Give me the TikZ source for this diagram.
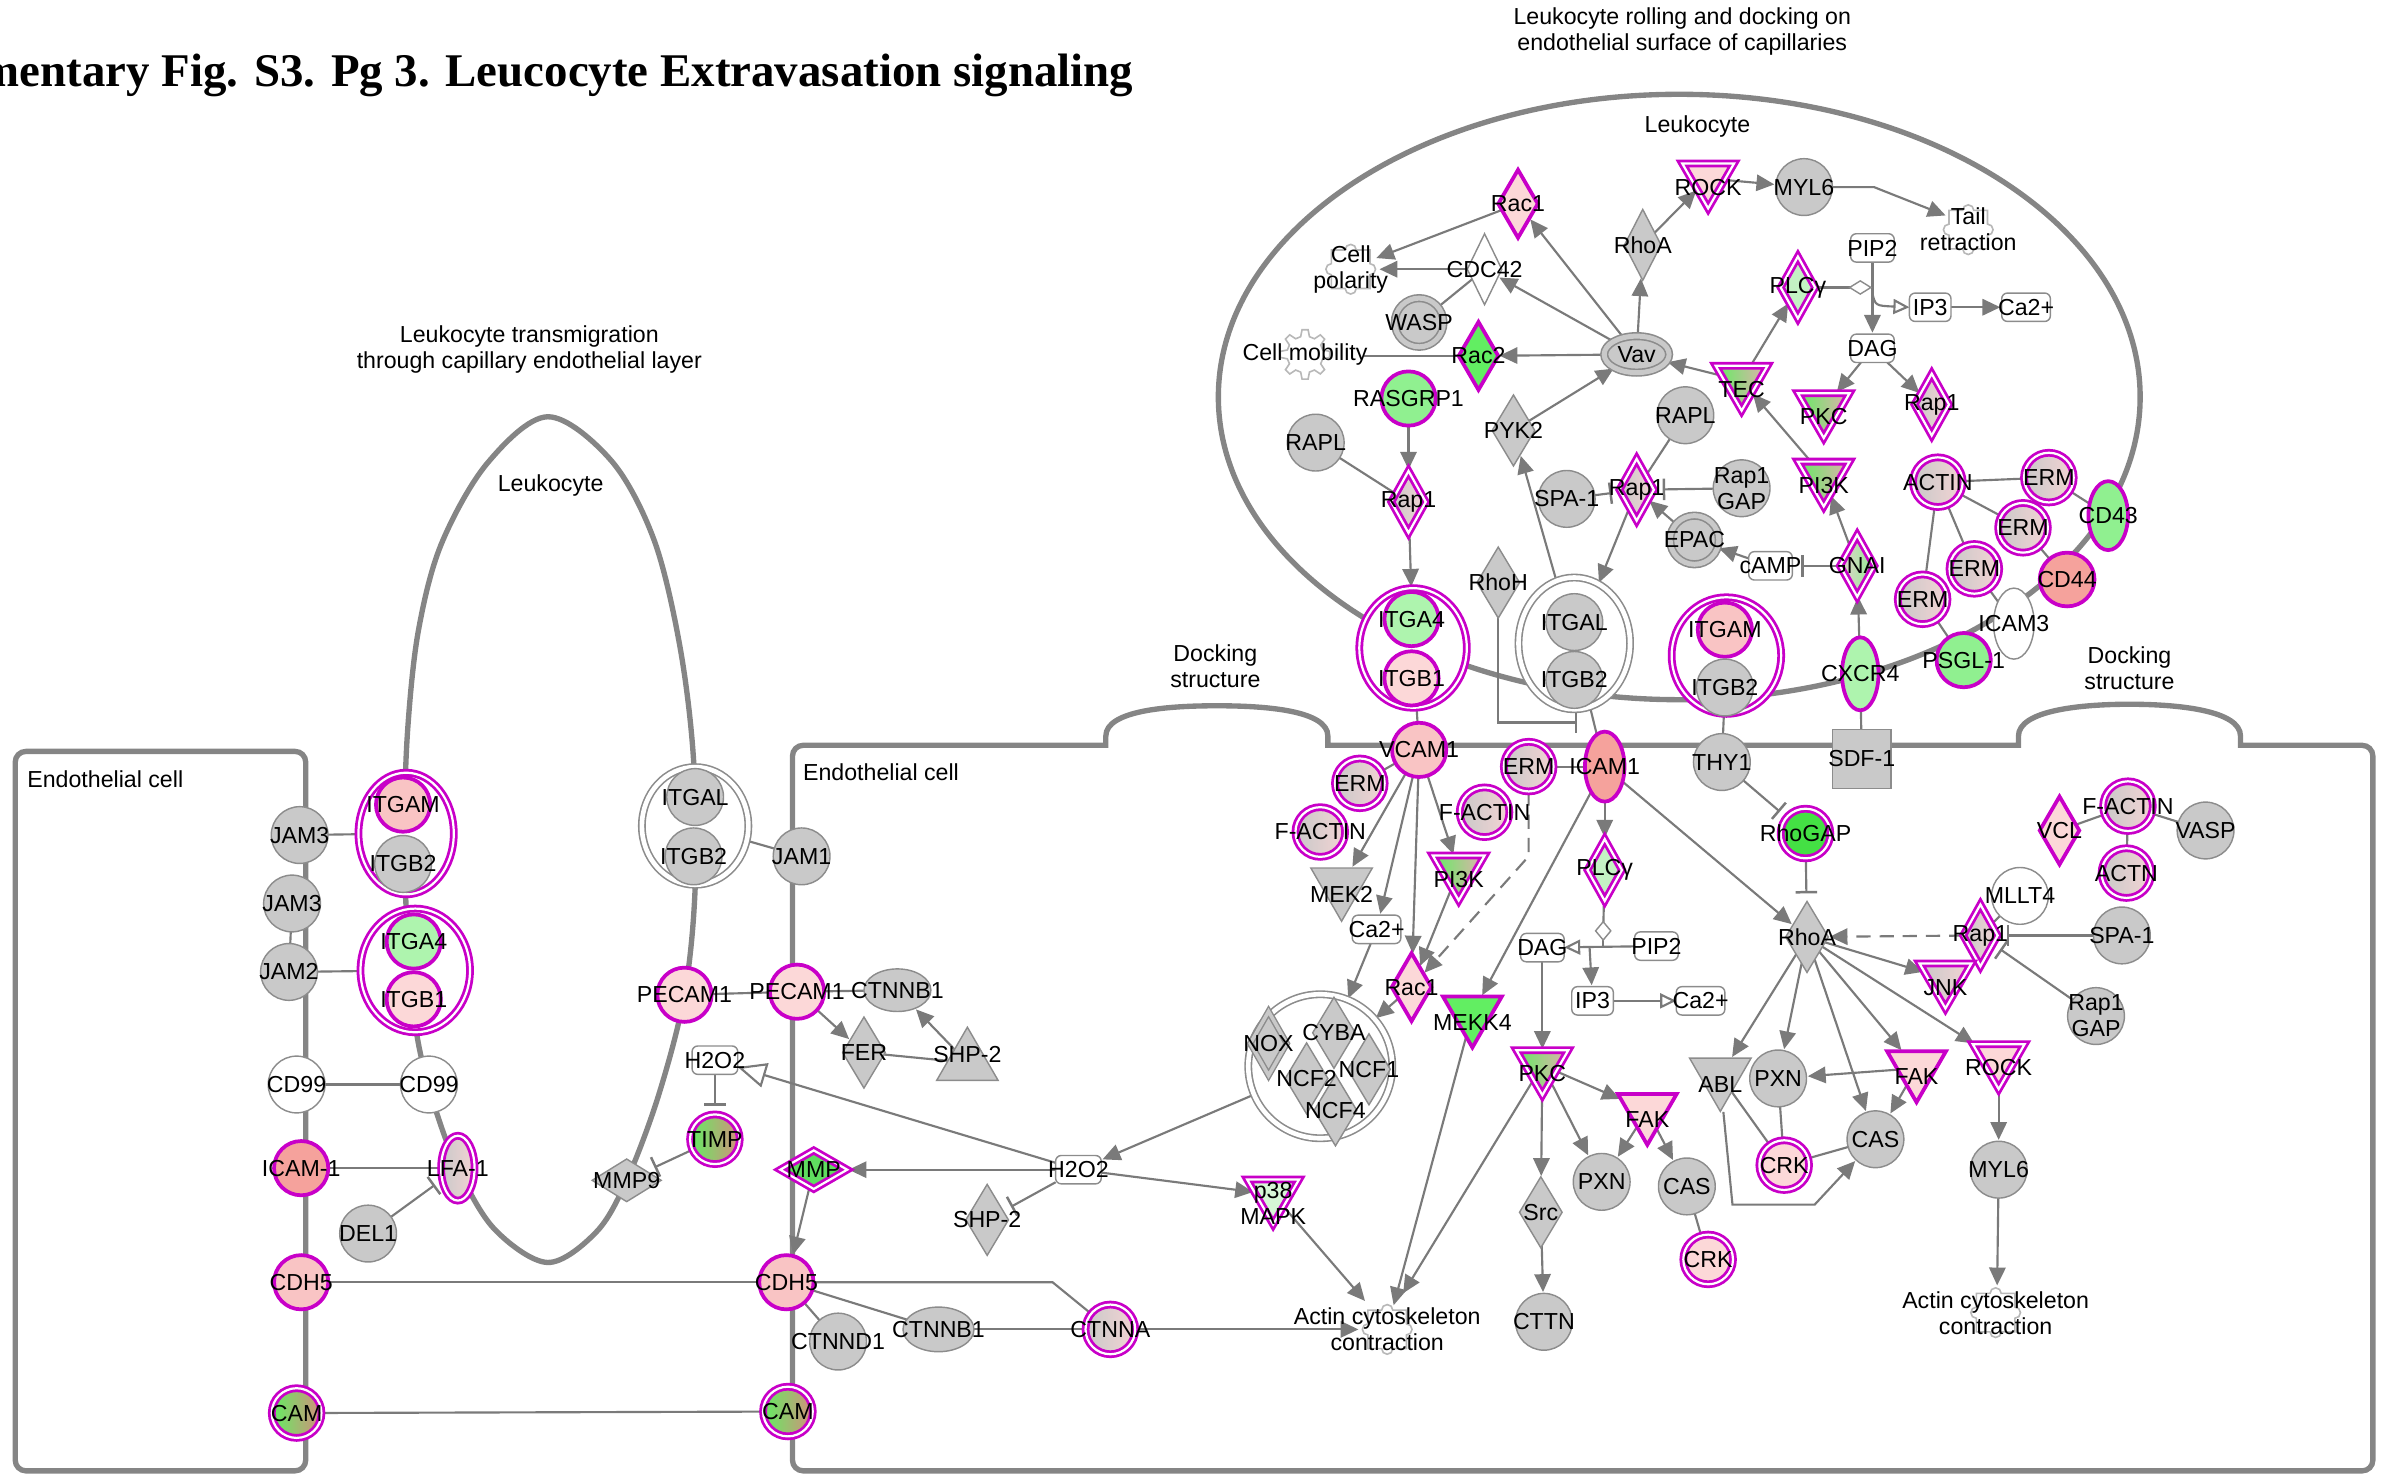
\documentclass[tikz,border=0pt]{standalone}
\usepackage{fontspec}
\setmainfont{Liberation Sans}
\newfontfamily\titlefont{Liberation Serif}
\usetikzlibrary{shapes.geometric,arrows.meta}

\definecolor{gf}{HTML}{C9C9C9}
\definecolor{gl}{HTML}{8C8C8C}
\definecolor{lc}{HTML}{7A7A7A}
\definecolor{mc}{HTML}{858585}
\definecolor{mg}{HTML}{C800C8}
\definecolor{pk}{HTML}{FCD8D8}
\definecolor{pk2}{HTML}{F9C4C4}
\definecolor{pkg}{HTML}{F3D3D3}
\definecolor{sal}{HTML}{F5A29C}
\definecolor{gr}{HTML}{62EE62}
\definecolor{gr2}{HTML}{90F090}
\definecolor{grl}{HTML}{AEF4AE}
\definecolor{plc}{HTML}{C4F2C4}
\definecolor{p38c}{HTML}{D6F6D6}
\definecolor{rg}{HTML}{44E044}
\definecolor{mmpc}{HTML}{5FDC5F}
\definecolor{fnc}{HTML}{B8B8B8}
\definecolor{rosy}{HTML}{E3AFAF}
\definecolor{brn}{HTML}{D48E7C}

\pgfdeclarelayer{memb}\pgfdeclarelayer{edges}\pgfdeclarelayer{fg}
\pgfsetlayers{memb,edges,main,fg}

\tikzset{
  lbl/.style={font=\fontsize{6.5}{7.3}\selectfont, align=center, inner sep=0pt, outer sep=0pt, text=black},
  con/.style={draw=lc, line width=0.6pt},
  arr/.style={con, -{Triangle[length=5pt,width=4.6pt]}, shorten >=0.4pt},
  arrO/.style={con, -{Triangle[open,length=4.5pt,width=4.2pt]}},
  arrW/.style={con, -{Triangle[open,fill=white,length=8pt,width=7pt]}},
  inh/.style={con, -{Bar[width=6pt,line width=0.7pt]}, shorten >=2.5pt},
  dsh/.style={arr, dash pattern=on 4pt off 2.5pt},
  memb/.style={draw=mc, line width=1.5pt},
  fnl/.style={draw=fnc, line width=0.45pt, fill=white},
  base/.style={inner sep=0pt, outer sep=0pt},
  dbl/.style={draw=mg, line width=0.78pt, double=white, double distance=0.62pt},
  gline/.style={fill=gf, draw=gl, line width=0.4pt},
  gc/.style={base, circle, minimum size=5.6mm, gline},
  gc2/.style={base, circle, minimum size=4.8mm, gline, double=gf, double distance=1.4pt, line width=0.45pt},
  wc/.style={gc, fill=white},
  mcirc/.style={base, circle, minimum size=5.35mm, draw=mg, line width=1.05pt},
  mcirc2/.style={base, circle, minimum size=4.9mm, dbl},
  gdia/.style={base, diamond, minimum width=4.2mm, minimum height=7mm, gline},
  gdia2/.style={gdia, double=gf, double distance=1pt, minimum width=3.6mm, minimum height=6.3mm},
  wdia/.style={gdia, fill=white, minimum width=3.4mm},
  sdia/.style={base, diamond, fill=white, draw=gl, line width=0.4pt},
  mdia/.style={base, diamond, minimum width=3.9mm, minimum height=6.7mm, draw=mg, line width=1.05pt},
  mdia2/.style={base, diamond, minimum width=3.4mm, minimum height=6.1mm, dbl},
  tridown/.style={base, regular polygon, regular polygon sides=3, shape border rotate=180, yshift=0.85mm},
  gtri/.style={tridown, minimum size=7mm, gline},
  gtriu/.style={base, regular polygon, regular polygon sides=3, minimum size=7mm, gline, yshift=-0.85mm},
  mtri/.style={tridown, minimum size=6.7mm, draw=mg, line width=1.05pt},
  mtri2/.style={tridown, minimum size=5.9mm, dbl},
  gell/.style={base, ellipse, gline},
  mell/.style={base, ellipse, draw=mg, line width=1.05pt},
  well/.style={gell, fill=white},
  gsq/.style={base, rectangle, minimum size=5.8mm, gline},
  chem/.style={base, rectangle, rounded corners=1.6pt, draw=gl, fill=white, line width=0.4pt, minimum width=4.3mm, minimum height=2.8mm},
  cplxM/.style={base, ellipse, fill=white, dbl},
  cplxW/.style={base, ellipse, fill=white, draw=gl, line width=0.45pt, double=white, double distance=1.3pt},
  graypink/.style={left color=gf, right color=pkg},
  greenpink/.style={left color=gr, right color=rosy},
  greenbrown/.style={left color=gr, right color=brn},
  gnaish/.style={left color=pkg!70!gf, right color=gr2},
}

% shape node + label drawn on the top layer
\newcommand\mol[5][]{\node[#2] (#3) at (#4) {};\begin{pgfonlayer}{fg}\node[lbl,#1] at (#4) {#5};\end{pgfonlayer}}
% puzzle piece marking a cellular function
\newcommand\puzzle[1]{\draw[fnl, shift={(#1)}, x=1mm, y=1mm] (-1.9,-1.9) -- (-0.55,-1.9)
  arc[start angle=180, end angle=360, radius=0.55mm] -- (1.9,-1.9) -- (1.9,-0.55)
  arc[start angle=-90, end angle=90, radius=0.55mm] -- (1.9,1.9) -- (0.55,1.9)
  arc[start angle=0, end angle=180, radius=0.55mm] -- (-1.9,1.9) -- (-1.9,0.55)
  arc[start angle=90, end angle=270, radius=0.55mm] -- cycle;}
% cog wheel
\newcommand\cogwheel[1]{\draw[fnl, shift={(#1)}, x=1mm, y=1mm] (-7:2.45)
  \foreach \a in {0,45,...,315} { -- (\a-7:2.45) -- (\a+7:2.45) -- (\a+14:1.8) -- (\a+31:1.8) } -- cycle;}

\begin{document}
\begin{tikzpicture}[x=0.015cm, y=-0.015cm]
\path[use as bounding box] (0,0) rectangle (1568,970);

% ---------------- titles and region labels ----------------
\node[anchor=base west, inner sep=0pt, font=\titlefont\bfseries\fontsize{13.15}{15}\selectfont] (title) at (-13,57) {mentary Fig. S3. Pg 3. Leucocyte Extravasation signaling};
\begin{pgfonlayer}{fg}
\node[lbl] (lbRoll) at (1106,21) {Leukocyte rolling and docking on\\endothelial surface of capillaries};
\node[lbl] (lbTrans) at (348,229.5) {Leukocyte transmigration\\through capillary endothelial layer};
\node[lbl] (lbLeuA) at (362,319) {Leukocyte};
\node[lbl] (lbLeuB) at (1116,83) {Leukocyte};
\node[lbl] (lbDockA) at (799,438) {Docking\\structure};
\node[lbl] (lbDockB) at (1400,439.5) {Docking\\structure};
\node[lbl, anchor=west] (lbEndoA) at (18,512) {Endothelial cell};
\node[lbl, anchor=west] (lbEndoB) at (528,508) {Endothelial cell};
\end{pgfonlayer}

% ---------------- membranes ----------------
\begin{pgfonlayer}{memb}
\draw[memb, rounded corners=3pt] (10,494) rectangle (201,967);
\draw[memb] (521,967) [rounded corners=3pt] -- (521,490) [sharp corners] -- (727,490) -- (727,484)
  .. controls (727,467) and (768,464) .. (800,464) .. controls (832,464) and (873,467) .. (873,484)
  -- (873,490) -- (1327,490) -- (1327,484)
  .. controls (1327,467) and (1368,463) .. (1400,463) .. controls (1432,463) and (1473,467) .. (1473,484)
  -- (1473,490) [rounded corners=3pt] -- (1560,490) -- (1560,967) -- cycle;
\draw[memb] (1104,261) ellipse [x radius=45.45mm, y radius=29.85mm];
\draw[memb] plot[smooth cycle, tension=0.55] coordinates {
  (360,274) (402,303) (430,355) (447,425) (456,500) (457,584) (450,654) (433,720)
  (412,776) (392,810) (360,830) (325,808) (301,768) (285,725) (274,680) (268,620)
  (266,545) (268,480) (275,415) (290,358) (320,305)};
\end{pgfonlayer}

% ---------------- left endothelial cell and transmigrating leukocyte ----------------
\mol{gc}{jamA}{197,549}{JAM3}
\mol{gc}{jamB}{192,594}{JAM3}
\mol{gc}{jamC}{190,639}{JAM2}
\node[cplxM, minimum width=9.4mm, minimum height=12mm] (cL1) at (267,548) {};
\mol{mcirc, fill=pk2}{itgamL}{265,529}{ITGAM}
\mol{gc}{itgbL}{265,568}{ITGB2}
\node[cplxM, minimum width=10.8mm, minimum height=12.2mm] (cL2) at (273,638) {};
\mol{mcirc, fill=grl}{itga4L}{272,619}{ITGA4}
\mol{mcirc, fill=pk}{itgb1L}{272,657}{ITGB1}
\mol{wc}{cd99a}{195,713}{CD99}
\mol{wc}{cd99b}{282,713}{CD99}
\mol{mcirc, fill=sal}{icam1L}{198,768}{ICAM-1}
\mol{base, ellipse, dbl, graypink, minimum width=3.3mm, minimum height=6.4mm}{lfa1}{301,768}{LFA-1}
\mol{gc}{del1}{242,811}{DEL1}
\mol{mcirc, fill=pk2}{cdh5L}{198,843}{CDH5}
\mol{mcirc2, greenbrown}{camL}{195,929}{CAM}
\node[cplxW, minimum width=10.5mm, minimum height=11.6mm] (cL3) at (457,543) {};
\mol{gc}{itgalL}{457,524}{ITGAL}
\mol{gc}{itgbL2}{456,563}{ITGB2}
\mol{gc}{jam1}{527,563}{JAM1}
\mol{mcirc, fill=pk}{pecamA}{450,654}{PECAM1}
\mol{chem, minimum width=4.5mm}{h2o2L}{470,697}{H2O2}
\mol{mcirc2, greenbrown}{timp}{470,749}{TIMP}
\mol{gdia, minimum width=6.8mm, minimum height=4.2mm}{mmp9}{412,776}{MMP9}

% ---------------- middle endothelial cell, lower part ----------------
\mol{mcirc, fill=pk}{pecamB}{524,652}{PECAM1}
\mol{gell, minimum width=6.6mm, minimum height=4.2mm}{ctnnbA}{590,651}{CTNNB1}
\mol{gdia}{fer}{568,692}{FER}
\mol{gtriu}{shp2a}{636,693}{SHP-2}
\mol{chem, minimum width=4.5mm}{h2o2}{709,769}{H2O2}
\mol{mdia2, fill=mmpc, minimum width=6.6mm, minimum height=3.8mm}{mmp}{535,769}{MMP}
\mol{gdia}{shp2b}{649,802}{SHP-2}
\mol{mtri2, fill=p38c}{p38}{837,791}{p38\\MAPK}
\mol{mcirc, fill=pk2}{cdh5R}{517,843}{CDH5}
\mol{gc}{ctnnd1}{551,882}{CTNND1}
\mol{gell, minimum width=7mm, minimum height=4.4mm}{ctnnbB}{617,874}{CTNNB1}
\mol{mcirc2, graypink}{ctnna}{730,874}{CTNNA}
\mol{mcirc2, greenbrown}{camR}{518,928}{CAM}
\puzzle{912,874}
\begin{pgfonlayer}{fg}\node[lbl] (actL) at (912,874) {Actin cytoskeleton\\contraction};\end{pgfonlayer}

% NADPH oxidase complex
\node[cplxW, minimum width=14.2mm, minimum height=14.2mm] (nox) at (868,701) {};
\mol{gdia2}{noxd}{834,686}{NOX}
\mol{gdia}{cyba}{877,679}{CYBA}
\mol{gdia}{ncf1}{900,703}{NCF1}
\mol{gdia}{ncf4}{878,730}{NCF4}
\mol{gdia}{ncf2}{859,709}{NCF2}

% ---------------- docking area, left ----------------
\mol{mcirc, fill=pk2}{vcam1}{933,493}{VCAM1}
\mol{mcirc2, graypink}{erm1}{894,515}{ERM}
\mol{mcirc2, graypink}{fact1}{868,547}{F-ACTIN}
\mol{gtri}{mek2}{882,588}{MEK2}
\mol{mtri2, greenpink}{pi3k2}{959,578}{PI3K}
\mol{chem, minimum width=4.8mm}{ca2a}{905,611}{Ca2+}
\mol{mdia, fill=pk}{rac1b}{928,649}{Rac1}
\mol{mtri, fill=gr}{mekk4}{968,672}{MEKK4}
\mol{mcirc2, graypink}{erm2}{1005,504}{ERM}
\mol{mcirc2, graypink}{fact2}{976,534}{F-ACTIN}
\mol{mell, fill=sal, minimum width=3.9mm, minimum height=6.9mm}{icam1}{1055,504}{ICAM1}
\mol{mdia2, fill=plc}{plcg2}{1055,572}{PLCγ}
\node[sdia, minimum width=1.5mm, minimum height=1.8mm] (sd2) at (1054,612) {};
\mol{chem}{dag2}{1014,623}{DAG}
\mol{chem}{pip2b}{1089,622}{PIP2}
\mol{chem, minimum width=4.1mm}{ip3b}{1047,658}{IP3}
\mol{chem, minimum width=4.8mm}{ca2b}{1118,658}{Ca2+}
\mol{mtri2, greenpink}{pkc2}{1014,706}{PKC}
\mol{mtri, fill=pk}{fak1}{1083,736}{FAK}
\mol{gc}{pxn1}{1053,777}{PXN}
\mol{gc}{cas1}{1109,780}{CAS}
\mol{mcirc2, fill=pk}{crk1}{1123,828}{CRK}
\mol{gdia}{src}{1013,797}{Src}
\mol{gc}{cttn}{1015,869}{CTTN}

% ---------------- receptor complexes on the rolling leukocyte ----------------
\mol{gdia}{rhoh}{985,383}{RhoH}
\node[cplxM, minimum width=10.6mm, minimum height=11.8mm] (cT1) at (929,426) {};
\mol{mcirc, fill=grl}{itga4T}{928,407}{ITGA4}
\mol{mcirc, fill=pk}{itgb1T}{928,446}{ITGB1}
\node[cplxW, minimum width=11mm, minimum height=13mm] (cT2) at (1035,423) {};
\mol{gc}{itgalT}{1035,409}{ITGAL}
\mol{gc}{itgbT}{1035,447}{ITGB2}
\node[cplxM, minimum width=10.8mm, minimum height=11.5mm] (cT3) at (1135,431) {};
\mol{mcirc, fill=pk2}{itgamT}{1134,414}{ITGAM}
\mol{gc}{itgbT3}{1134,452}{ITGB2}
\mol{mell, fill=grl, minimum width=3.6mm, minimum height=7.2mm}{cxcr4}{1223,443}{CXCR4}
\mol{gsq}{sdf1}{1224,499}{SDF-1}
\mol{gc}{thy1}{1132,501}{THY1}

% ---------------- docking area, right ----------------
\mol{mcirc2, fill=rg}{rhogap}{1187,548}{RhoGAP}
\mol{gdia}{rhoA2}{1188,616}{RhoA}
\mol{wc}{mllt4}{1328,589}{MLLT4}
\mol{mdia2, graypink}{rap1c}{1302,615}{Rap1}
\mol{gc}{spa1b}{1395,615}{SPA-1}
\mol{gc}{rgapb}{1378,668}{Rap1\\GAP}
\mol{mdia, fill=pk}{vcl}{1354,546}{VCL}
\mol{gc}{vasp}{1450,546}{VASP}
\mol{mcirc2, graypink}{fact3}{1399,530}{F-ACTIN}
\mol{mcirc2, graypink}{actn}{1398,574}{ACTN}
\mol{mtri2, graypink}{jnk}{1279,649}{JNK}
\mol{gtri}{abl}{1131,713}{ABL}
\mol{gc}{pxn2}{1169,709}{PXN}
\mol{mtri, fill=pk}{fak2}{1260,708}{FAK}
\mol{mtri2, fill=pk}{rock2}{1314,702}{ROCK}
\mol{gc}{cas2}{1233,749}{CAS}
\mol{mcirc2, fill=pk}{crk2}{1173,766}{CRK}
\mol{gc}{myl6b}{1314,769}{MYL6}
\puzzle{1312,863}
\begin{pgfonlayer}{fg}\node[lbl] (actR) at (1312,863.5) {Actin cytoskeleton\\contraction};\end{pgfonlayer}

% ---------------- inside the rolling leukocyte ----------------
\mol{mtri2, fill=pk}{rock1}{1123,123}{ROCK}
\mol{gc}{myl6a}{1186,123}{MYL6}
\puzzle{1294,151}
\begin{pgfonlayer}{fg}\node[lbl] (tail) at (1294,151) {Tail\\retraction};\end{pgfonlayer}
\mol{mdia, fill=pk}{rac1a}{998,134}{Rac1}
\mol{gdia, minimum width=3.6mm}{rhoA1}{1080,161}{RhoA}
\puzzle{888,177}
\begin{pgfonlayer}{fg}\node[lbl] (cpol) at (888,177) {Cell\\polarity};\end{pgfonlayer}
\mol{wdia}{cdc42}{976,177}{CDC42}
\mol{gc2}{wasp}{933,212}{WASP}
\mol{chem}{pip2a}{1231,163}{PIP2}
\mol{mdia2, fill=plc}{plcg1}{1182,189}{PLCγ}
\node[sdia, minimum width=2.1mm, minimum height=1.3mm] (sd1) at (1223,189) {};
\mol{chem, minimum width=4.1mm}{ip3a}{1269,202}{IP3}
\mol{chem, minimum width=4.8mm}{ca2c}{1332,202}{Ca2+}
\mol{chem}{dag1}{1231,229}{DAG}
\cogwheel{858,233}
\begin{pgfonlayer}{fg}\node[lbl] (cmob) at (858,233) {Cell mobility};\end{pgfonlayer}
\mol{mdia, fill=gr}{rac2}{972,234}{Rac2}
\mol{base, ellipse, gline, double=gf, double distance=1.4pt, line width=0.45pt, minimum width=6.4mm, minimum height=3.6mm}{vav}{1076,233}{Vav}
\mol{mtri2, greenpink}{tec}{1145,256}{TEC}
\mol{mtri2, greenpink}{pkc1}{1199,274}{PKC}
\mol{mdia2, graypink}{rap1d}{1270,266}{Rap1}
\mol{mcirc, fill=gr2}{rasgrp1}{926,262}{RASGRP1}
\mol{gc}{rapl1}{865,291}{RAPL}
\mol{gdia}{pyk2}{995,283}{PYK2}
\mol{gc}{rapl2}{1108,273}{RAPL}
\mol{mdia2, graypink}{rap1a}{926,330}{Rap1}
\mol{gc}{spa1a}{1030,328}{SPA-1}
\mol{mdia2, graypink}{rap1b}{1076,322}{Rap1}
\mol{gc}{rgapa}{1145,321}{Rap1\\GAP}
\mol{mtri2, greenpink}{pi3k1}{1199,319}{PI3K}
\mol{gc2}{epac}{1114,355}{EPAC}
\mol{chem}{camp}{1164,372}{cAMP}
\mol{mdia2, gnaish}{gnai}{1221,372}{GNAI}
\mol{mcirc2, graypink}{actin}{1274,317}{ACTIN}
\mol{mell, fill=gr2, minimum width=3.9mm, minimum height=6.8mm}{cd43}{1386,339}{CD43}
\mol{mcirc2, graypink}{ermA}{1347,314}{ERM}
\mol{mell, fill=sal, minimum width=5.4mm, minimum height=5.3mm}{cd44}{1359,381}{CD44}
\mol{mcirc2, graypink}{ermB}{1330,347}{ERM}
\mol{well, minimum width=4mm, minimum height=7mm}{icam3}{1324,410}{ICAM3}
\mol{mcirc2, graypink}{ermC}{1298,374}{ERM}
\mol{mcirc, fill=gr2}{psgl1}{1291,434}{PSGL-1}
\mol{mcirc2, graypink}{ermD}{1264,394}{ERM}

% ---------------- connectors ----------------
\begin{pgfonlayer}{edges}
% left cell
\draw[con] (jamA) -- (cL1);
\draw[con] (jamB) -- (jamC);
\draw[con] (jamC) -- (cL2);
\draw[con] (cd99a) -- (cd99b);
\draw[con] (icam1L) -- (lfa1);
\draw[inh] (del1) -- (lfa1);
\draw[con] (cdh5L) -- (cdh5R);
\draw[con] (camL) -- (camR);
\draw[con] (cL3) -- (jam1);
\draw[con] (pecamA) -- (pecamB);
\draw[inh] (h2o2L) -- (timp);
\draw[inh] (timp) -- (mmp9);
% lower middle
\draw[con] (pecamB) -- (ctnnbA);
\draw[arr] (pecamB) -- (fer);
\draw[arr] (shp2a) -- (ctnnbA);
\draw[con] (fer) -- (shp2a);
\draw[arrW] (h2o2) -- (h2o2L);
\draw[arr] (h2o2) -- (mmp);
\draw[arr] (h2o2) -- (p38);
\draw[inh] (h2o2) -- (shp2b);
\draw[arr] (nox) -- (h2o2);
\draw[arr] (mmp) -- (cdh5R);
\draw[con] (cdh5R.east) -- (692,843) -- (ctnna);
\draw[con] (cdh5R) -- (ctnnbB);
\draw[con] (cdh5R) -- (ctnnd1);
\draw[con] (ctnnbB) -- (ctnna);
\draw[arr] (ctnna) -- (894,874);
\draw[arr] (p38) -- (898,856);
\draw[arr] (mekk4) -- (916,859);
\draw[arr] (pkc2) -- (922,851);
% VCAM1 / ICAM1 signalling
\draw[con] (cT1) -- (vcam1);
\draw[con] (erm1) -- (vcam1);
\draw[arr] (vcam1) -- (mek2);
\draw[arr] (vcam1) -- (ca2a);
\draw[arr] (vcam1) -- (rac1b);
\draw[arr] (vcam1) -- (pi3k2);
\draw[arr] (pi3k2) -- (rac1b);
\draw[dsh] (erm2.south) -- (1005,563) -- (rac1b);
\draw[arr] (ca2a) -- (nox);
\draw[arr] (rac1b) -- (nox);
\draw[con] (erm2) -- (icam1);
\draw[con] (cT2) -- (icam1);
\draw[inh, shorten >=0pt] (rhoh) -- (985,475) -- (1037,475);
\draw[arr] (icam1) -- (plcg2);
\draw[arr] (icam1) -- (mekk4);
\draw[arr] (icam1) -- (rhoA2);
\draw[con] (plcg2) -- (sd2);
\draw[con] (sd2) -- (1054,622);
\draw[arrO] (pip2b) -- (dag2);
\draw[arr] (1045,622) -- (ip3b);
\draw[arrO] (ip3b) -- (ca2b);
\draw[arr] (dag2) -- (pkc2);
\draw[arr] (pkc2) -- (fak1);
\draw[arr] (pkc2) -- (pxn1);
\draw[arr] (pkc2) -- (src);
\draw[arr] (fak1) -- (pxn1);
\draw[arr] (fak1) -- (cas1);
\draw[con] (cas1) -- (crk1);
\draw[arr] (src) -- (cttn);
% right docking area
\draw[con] (cT3) -- (thy1);
\draw[con] (cxcr4) -- (sdf1);
\draw[inh] (thy1) -- (rhogap);
\draw[inh] (rhogap) -- (rhoA2);
\draw[dsh] (rap1c) -- (rhoA2);
\draw[con] (mllt4) -- (rap1c);
\draw[inh] (spa1b) -- (rap1c);
\draw[inh] (rgapb) -- (rap1c);
\draw[arr] (rhoA2) -- (abl);
\draw[arr] (rhoA2) -- (pxn2);
\draw[arr] (rhoA2) -- (cas2);
\draw[arr] (rhoA2) -- (fak2);
\draw[arr] (rhoA2) -- (jnk);
\draw[arr] (rhoA2) -- (rock2);
\draw[arr] (fak2) -- (pxn2);
\draw[arr] (fak2) -- (cas2);
\draw[con] (pxn2) -- (crk2);
\draw[con] (abl) -- (crk2);
\draw[con] (crk2) -- (cas2);
\draw[arr] (1133,731) -- (1139,792) -- (1193,792) -- (cas2);
\draw[arr] (rock2) -- (myl6b);
\draw[arr] (myl6b) -- (1313,846);
\draw[con] (vcl) -- (fact3);
\draw[con] (fact3) -- (vasp);
\draw[con] (fact3) -- (actn);
% rolling leukocyte
\draw[arr] (rock1) -- (myl6a);
\draw[arr] (myl6a) -- (1232,123) -- (1280,142);
\draw[arr] (rhoA1) -- (rock1);
\draw[arr] (vav) -- (rhoA1);
\draw[arr] (vav) -- (rac1a);
\draw[arr] (vav) -- (cdc42);
\draw[arr] (vav) -- (rac2);
\draw[arr] (rac1a) -- (904,170);
\draw[arr] (cdc42) -- (906,177);
\draw[con] (cdc42) -- (wasp);
\draw[con] (rac2) -- (897,234);
\draw[arr] (pyk2) -- (vav);
\draw[arr] (tec) -- (vav);
\draw[arr] (tec) -- (plcg1);
\draw[arr] (pi3k1) -- (tec);
\draw[arr] (gnai) -- (pi3k1);
\draw[arr] (cxcr4) -- (gnai);
\draw[inh] (gnai) -- (camp);
\draw[arr] (camp) -- (epac);
\draw[arr] (epac) -- (rap1b);
\draw[inh] (rgapa) -- (rap1b);
\draw[inh] (spa1a) -- (rap1b);
\draw[con] (rapl2) -- (rap1b);
\draw[arr] (rap1b) -- (cT2);
\draw[arr] (cT2) -- (pyk2);
\draw[con] (plcg1) -- (sd1);
\draw[con] (sd1) -- (1231,189);
\draw[arr] (pip2a) -- (dag1);
\draw[arrO] (1231,193) .. controls (1233,201) .. (ip3a.west);
\draw[arr] (ip3a) -- (ca2c);
\draw[arr] (dag1) -- (pkc1);
\draw[arr] (dag1) -- (rap1d);
\draw[arr] (rasgrp1) -- (rap1a);
\draw[con] (rapl1) -- (rap1a);
\draw[arr] (rap1a) -- (cT1);
\draw[con] (actin) -- (ermA);
\draw[con] (actin) -- (ermB);
\draw[con] (actin) -- (ermC);
\draw[con] (actin) -- (ermD);
\draw[con] (ermA) -- (cd43);
\draw[con] (ermB) -- (cd44);
\draw[con] (ermC) -- (icam3);
\draw[con] (ermD) -- (psgl1);
\end{pgfonlayer}
\end{tikzpicture}
\end{document}
